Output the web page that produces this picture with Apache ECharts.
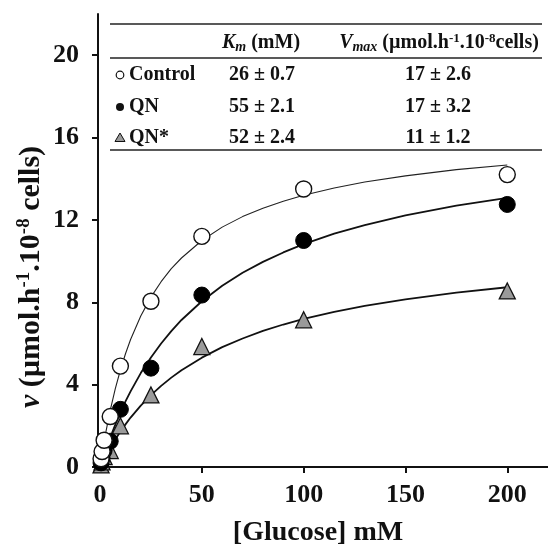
<!DOCTYPE html>
<html>
<head>
<meta charset="utf-8">
<script src="https://cdn.jsdelivr.net/npm/echarts@6/dist/echarts.min.js"></script>
<style>html,body{margin:0;padding:0;background:#fff}#c{width:548px;height:555px}</style>
</head>
<body>
<div id="c"></div>
<script>
// ---- data ----
const glucose = [0.5, 1, 2, 5, 10, 25, 50, 100, 200];
const controlV = [0.4, 0.75, 1.3, 2.45, 4.9, 8.05, 11.2, 13.5, 14.2];
const qnV = [0.2, 0.45, 0.8, 1.25, 2.8, 4.8, 8.35, 11.0, 12.75];
const qnStarV = [0.1, 0.25, 0.5, 0.8, 2.0, 3.5, 5.85, 7.15, 8.55];

// fitted curves, values estimated along the drawn lines
const curveX = [0, 1, 2, 3, 5, 7.5, 10, 12.5, 15, 20, 25, 30, 35, 40, 50, 60, 70, 80, 90, 100, 115, 130, 150, 175, 200];
const controlFit = [0, 0.63, 1.22, 1.77, 2.75, 3.81, 4.71, 5.5, 6.19, 7.33, 8.25, 9.0, 9.63, 10.15, 11.0, 11.65, 12.16, 12.57, 12.91, 13.2, 13.55, 13.84, 14.14, 14.44, 14.67];
const qnFit = [0, 0.31, 0.61, 0.9, 1.43, 2.06, 2.64, 3.19, 3.67, 4.56, 5.32, 6.0, 6.6, 7.14, 8.05, 8.8, 9.43, 9.96, 10.42, 10.82, 11.33, 11.75, 12.22, 12.69, 13.07];
const qnStarFit = [0, 0.2, 0.39, 0.58, 0.93, 1.34, 1.72, 2.07, 2.4, 2.98, 3.49, 3.94, 4.34, 4.7, 5.31, 5.82, 6.24, 6.61, 6.92, 7.19, 7.53, 7.82, 8.14, 8.47, 8.73];

const xTicks = [0, 50, 100, 150, 200];
const yTicks = [0, 4, 8, 12, 16, 20];

const tableRows = ['Control', 'QN', 'QN*'];
const kmVals = ['26 \u00b1 0.7', '55 \u00b1 2.1', '52 \u00b1 2.4'];
const vmaxVals = ['17 \u00b1 2.6', '17 \u00b1 3.2', '11 \u00b1 1.2'];

// ---- chart ----
const FONT = '"Liberation Serif", "Times New Roman", serif';
const pair = (xs, ys) => xs.map((x, i) => [x, ys[i]]);

const chart = echarts.init(document.getElementById('c'), null, {renderer: 'canvas'});

const rowY = [75, 107, 138];
const g = [];
[24, 58, 150].forEach(y => {
  g.push({type: 'line', shape: {x1: 110, y1: y, x2: 542, y2: y},
    style: {stroke: '#222', lineWidth: 1.6}, z: 10});
});
g.push({type: 'text', x: 261, y: 43, z: 10, style: {
  text: '{i|K}{sub|m}{b| (mM)}', textAlign: 'center', textVerticalAlign: 'middle',
  rich: {
    i: {font: 'italic bold 20px ' + FONT, fill: '#111'},
    sub: {font: 'italic bold 14px ' + FONT, fill: '#111', padding: [8, 0, 0, 0]},
    b: {font: 'bold 20px ' + FONT, fill: '#111'}
  }
}});
g.push({type: 'text', x: 439, y: 43, z: 10, style: {
  text: '{i|V}{sub|max}{b| (\u00b5mol.h}{sup|-1}{b|.10}{sup|-8}{b|cells)}', textAlign: 'center', textVerticalAlign: 'middle',
  rich: {
    i: {font: 'italic bold 20px ' + FONT, fill: '#111'},
    sub: {font: 'italic bold 14px ' + FONT, fill: '#111', padding: [8, 0, 0, 0]},
    sup: {font: 'bold 13px ' + FONT, fill: '#111', padding: [0, 0, 9, 0]},
    b: {font: 'bold 20px ' + FONT, fill: '#111'}
  }
}});
tableRows.forEach((name, i) => {
  g.push({type: 'text', x: 129, y: rowY[i], z: 10, style: {
    text: name, font: 'bold 20px ' + FONT, fill: '#111', textAlign: 'left', textVerticalAlign: 'middle'}});
  g.push({type: 'text', x: 262, y: rowY[i], z: 10, style: {
    text: kmVals[i], font: 'bold 20px ' + FONT, fill: '#111', textAlign: 'center', textVerticalAlign: 'middle'}});
  g.push({type: 'text', x: 438, y: rowY[i], z: 10, style: {
    text: vmaxVals[i], font: 'bold 20px ' + FONT, fill: '#111', textAlign: 'center', textVerticalAlign: 'middle'}});
});
g.push({type: 'circle', shape: {cx: 120, cy: rowY[0], r: 3.8}, style: {fill: '#fff', stroke: '#111', lineWidth: 1.2}, z: 10});
g.push({type: 'circle', shape: {cx: 120, cy: rowY[1], r: 4}, style: {fill: '#111'}, z: 10});
g.push({type: 'polygon', shape: {points: [[120, rowY[2] - 5], [125, rowY[2] + 3.5], [115, rowY[2] + 3.5]]}, style: {fill: '#9a9a9a', stroke: '#111', lineWidth: 1}, z: 10});

g.push({type: 'text', x: 318, y: 533, z: 10, style: {
  text: '[Glucose] mM', font: 'bold 28px ' + FONT, fill: '#111', textAlign: 'center', textVerticalAlign: 'middle'}});
g.push({type: 'text', x: 31, y: 277, rotation: Math.PI / 2, z: 10, style: {
  text: '{i|v}{b| (\u00b5mol.h}{sup|-1}{b|.10}{sup|-8}{b| cells)}', textAlign: 'center', textVerticalAlign: 'middle',
  rich: {
    i: {font: 'italic bold 30px ' + FONT, fill: '#111'},
    sup: {font: 'bold 19px ' + FONT, fill: '#111', padding: [0, 0, 13, 0]},
    b: {font: 'bold 30px ' + FONT, fill: '#111'}
  }
}});

const lineStyleThin = {color: '#222', width: 1.1};
const lineStyleThick = {color: '#111', width: 1.8};

chart.setOption({
  animation: false,
  backgroundColor: '#fff',
  grid: {left: 98, right: -7, top: 14, bottom: 88, containLabel: false},
  xAxis: {
    type: 'value', min: -1, max: 220,
    axisLine: {onZero: false, lineStyle: {color: '#111', width: 2}},
    axisTick: {customValues: xTicks, length: 6, lineStyle: {color: '#111', width: 2}},
    axisLabel: {customValues: xTicks, margin: 15, color: '#111', fontFamily: FONT, fontWeight: 'bold', fontSize: 26},
    splitLine: {show: false}
  },
  yAxis: {
    type: 'value', min: 0, max: 22,
    axisLine: {show: true, onZero: false, lineStyle: {color: '#111', width: 2}},
    axisTick: {show: true, customValues: yTicks, length: 6, lineStyle: {color: '#111', width: 2}},
    axisLabel: {customValues: yTicks, margin: 19, color: '#111', fontFamily: FONT, fontWeight: 'bold', fontSize: 26},
    splitLine: {show: false}
  },
  graphic: g,
  series: [
    {type: 'line', data: pair(curveX, controlFit), showSymbol: false, smooth: false, lineStyle: lineStyleThin, z: 2, silent: true},
    {type: 'line', data: pair(curveX, qnFit), showSymbol: false, smooth: false, lineStyle: lineStyleThick, z: 2, silent: true},
    {type: 'line', data: pair(curveX, qnStarFit), showSymbol: false, smooth: false, lineStyle: lineStyleThick, z: 2, silent: true},
    {type: 'scatter', name: 'QN*', data: pair(glucose, qnStarV), symbol: 'triangle', symbolSize: 16,
      itemStyle: {color: '#9a9a9a', borderColor: '#111', borderWidth: 1.3, opacity: 1}, z: 5},
    {type: 'scatter', name: 'QN', data: pair(glucose, qnV), symbol: 'circle', symbolSize: 16,
      itemStyle: {color: '#000', borderColor: '#000', borderWidth: 1, opacity: 1}, z: 6},
    {type: 'scatter', name: 'Control', data: pair(glucose, controlV), symbol: 'circle', symbolSize: 16,
      itemStyle: {color: '#fff', borderColor: '#111', borderWidth: 1.4, opacity: 1}, z: 7}
  ]
});
</script>
</body>
</html>
